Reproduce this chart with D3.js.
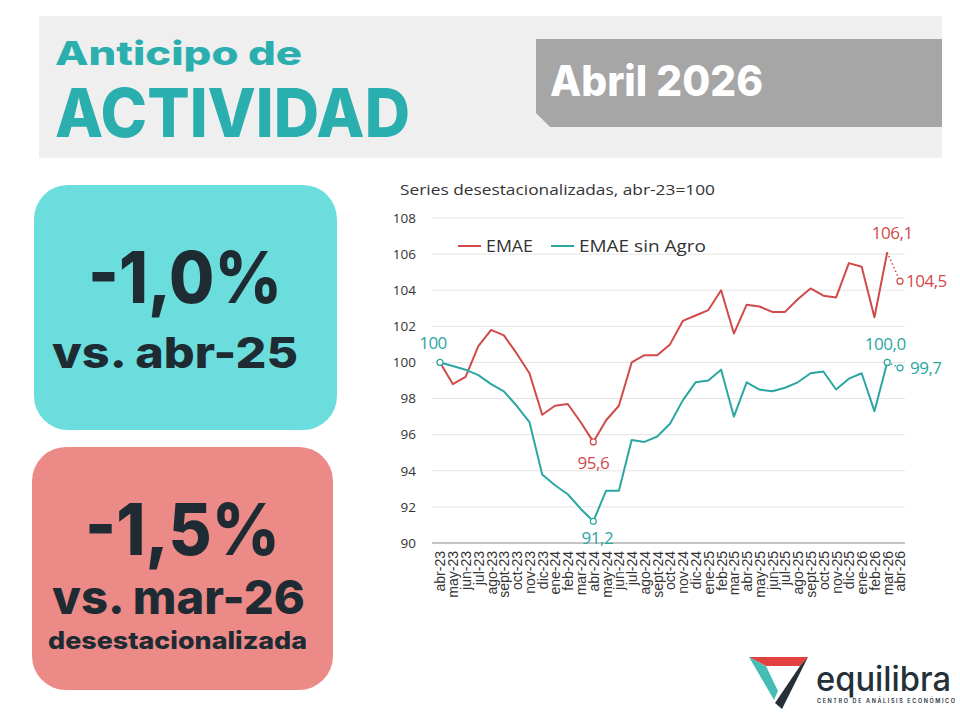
<!DOCTYPE html>
<html>
<head>
<meta charset="utf-8">
<script src="https://cdn.jsdelivr.net/npm/d3@7"></script>
<style>
  body { margin: 0; background: #fff; }
  svg { display: block; }
</style>
</head>
<body>
<div id="chart"></div>
<script>
// Data
var months = ["abr-23","may-23","jun-23","jul-23","ago-23","sept-23","oct-23","nov-23","dic-23",
  "ene-24","feb-24","mar-24","abr-24","may-24","jun-24","jul-24","ago-24","sept-24","oct-24","nov-24","dic-24",
  "ene-25","feb-25","mar-25","abr-25","may-25","jun-25","jul-25","ago-25","sept-25","oct-25","nov-25","dic-25",
  "ene-26","feb-26","mar-26","abr-26"];

var emae = [100,98.8,99.2,100.9,101.8,101.5,100.5,99.4,97.1,
  97.6,97.7,96.7,95.6,96.8,97.6,100.0,100.4,100.4,101.0,102.3,102.6,
  102.9,104.0,101.6,103.2,103.1,102.8,102.8,103.5,104.1,103.7,103.6,105.5,
  105.3,102.5,106.1,104.5];

var emaeSinAgro = [100,99.8,99.6,99.3,98.8,98.4,97.6,96.7,93.8,
  93.2,92.7,91.9,91.2,92.9,92.9,95.7,95.6,95.9,96.6,97.9,98.9,
  99.0,99.6,97.0,98.9,98.5,98.4,98.6,98.9,99.4,99.5,98.5,99.1,
  99.4,97.3,100.0,99.7];

var yTicks = [90,92,94,96,98,100,102,104,106,108];

var red = "#d14a4a";
var teal = "#2ba7a2";
var dark = "#1f2b33";

var svgWidth = 960;
var svgHeight = 720;

var svg = d3.select("#chart")
  .append("svg")
  .attr("width", svgWidth)
  .attr("height", svgHeight)
  .style("font-family", "Inter, 'Noto Sans', sans-serif");

// helper for the heavy display texts (stretched to the width seen in the picture)
function bigText(x0, y0, size, len, color, txt, anchor) {
  return svg.append("text")
    .attr("x", x0).attr("y", y0)
    .attr("text-anchor", anchor || "start")
    .attr("fill", color)
    .attr("textLength", len)
    .attr("lengthAdjust", "spacingAndGlyphs")
    .style("font-size", size + "px").style("font-weight", 800)
    .text(txt);
}

// Header
svg.append("rect")
  .attr("x", 39).attr("y", 16).attr("width", 903).attr("height", 142)
  .attr("fill", "#efefef");

bigText(55, 65, 33, 247, "#2aaeae", "Anticipo de");
bigText(55, 137, 67, 355, "#2aaeae", "ACTIVIDAD");

svg.append("path")
  .attr("d", "M536,39 H942 V127 H550 L536,113 Z")
  .attr("fill", "#a6a6a6");

bigText(550, 96, 42, 213, "#fff", "Abril 2026");

// KPI boxes
var kpis = [
  {x: 34, y: 185, w: 303, h: 245, fill: "#6cdddd",
   lines: [{t: "-1,0%", x: 88, y: 303, s: 72, len: 194}, {t: "vs. abr-25", x: 52, y: 368, s: 43, len: 246}]},
  {x: 32, y: 447, w: 301, h: 243, fill: "#ec8a87",
   lines: [{t: "-1,5%", x: 85, y: 555, s: 72, len: 195}, {t: "vs. mar-26", x: 52, y: 614, s: 47, len: 253},
           {t: "desestacionalizada", x: 48, y: 649, s: 24, len: 259}]}
];

kpis.forEach(function(k) {
  svg.append("rect")
    .attr("x", k.x).attr("y", k.y).attr("width", k.w).attr("height", k.h)
    .attr("rx", 34).attr("fill", k.fill);
  k.lines.forEach(function(l) {
    bigText(l.x, l.y, l.s, l.len, dark, l.t);
  });
});

// Line chart
var x = d3.scalePoint().domain(months).range([440, 900]);
var y = d3.scaleLinear().domain([90, 108]).range([543, 218]);

var chartFont = "'Open Sans', 'Noto Sans', sans-serif";

svg.append("text")
  .attr("x", 400).attr("y", 195)
  .attr("fill", "#333")
  .attr("textLength", 315)
  .attr("lengthAdjust", "spacingAndGlyphs")
  .style("font-family", chartFont)
  .style("font-size", "15px")
  .text("Series desestacionalizadas, abr-23=100");

// gridlines
svg.append("g")
  .selectAll("line")
  .data(yTicks)
  .enter()
  .append("line")
  .attr("x1", 432).attr("x2", 905)
  .attr("y1", d => y(d)).attr("y2", d => y(d))
  .attr("stroke", d => d === 90 ? "#8a8a8a" : "#e4e4e4")
  .attr("stroke-width", d => d === 90 ? 1.2 : 1);

// y axis labels
var yAxis = d3.axisLeft(y).tickValues(yTicks).tickSize(0).tickPadding(0);
var yG = svg.append("g")
  .attr("transform", "translate(416,0)")
  .call(yAxis);
yG.select(".domain").remove();
yG.selectAll("text")
  .attr("fill", "#333")
  .style("font-family", chartFont)
  .style("font-size", "13.5px");

// x axis labels
var xAxis = d3.axisBottom(x).tickSize(0).tickPadding(0);
var xG = svg.append("g")
  .attr("transform", "translate(0,551)")
  .call(xAxis);
xG.select(".domain").remove();
xG.selectAll("text")
  .attr("transform", "rotate(-90)")
  .attr("text-anchor", "end")
  .attr("x", 0).attr("y", 0).attr("dy", "0.35em")
  .attr("fill", "#333")
  .style("font-family", "'Liberation Sans', Arial, sans-serif")
  .style("font-size", "14px");

var line = d3.line()
  .x((d, i) => x(months[i]))
  .y(d => y(d));

var series = [
  {name: "EMAE", values: emae, color: red},
  {name: "EMAE sin Agro", values: emaeSinAgro, color: teal}
];

var n = months.length;
series.forEach(function(s) {
  // solid part
  svg.append("path")
    .datum(s.values.slice(0, n - 1))
    .attr("fill", "none")
    .attr("stroke", s.color)
    .attr("stroke-width", 2)
    .attr("stroke-linejoin", "round")
    .attr("d", line);
  // dotted last segment
  svg.append("line")
    .attr("x1", x(months[n - 2])).attr("y1", y(s.values[n - 2]))
    .attr("x2", x(months[n - 1])).attr("y2", y(s.values[n - 1]))
    .attr("stroke", s.color)
    .attr("stroke-width", 1.5)
    .attr("stroke-dasharray", "1.5,2.5");
});

// markers
var markers = [
  {s: 1, i: 0}, {s: 0, i: 12}, {s: 1, i: 12}, {s: 1, i: 35}, {s: 0, i: 36}, {s: 1, i: 36}
];
markers.forEach(function(m) {
  var s = series[m.s];
  svg.append("circle")
    .attr("cx", x(months[m.i])).attr("cy", y(s.values[m.i]))
    .attr("r", 3)
    .attr("fill", "#fff")
    .attr("stroke", s.color)
    .attr("stroke-width", 1.2);
});

// data labels
var labels = [
  {s: 1, i: 0, t: "100", dx: -7, dy: -13, anchor: "middle"},
  {s: 0, i: 12, t: "95,6", dx: 0, dy: 27, anchor: "middle"},
  {s: 1, i: 12, t: "91,2", dx: 4, dy: 23, anchor: "middle"},
  {s: 0, i: 35, t: "106,1", dx: 5, dy: -13, anchor: "middle"},
  {s: 1, i: 35, t: "100,0", dx: -2, dy: -12, anchor: "middle"},
  {s: 0, i: 36, t: "104,5", dx: 6, dy: 6, anchor: "start"},
  {s: 1, i: 36, t: "99,7", dx: 10, dy: 6, anchor: "start"}
];
labels.forEach(function(l) {
  var s = series[l.s];
  svg.append("text")
    .attr("x", x(months[l.i]) + l.dx)
    .attr("y", y(s.values[l.i]) + l.dy)
    .attr("text-anchor", l.anchor)
    .attr("fill", s.color)
    .style("font-family", chartFont)
    .style("font-size", "17px")
    .style("letter-spacing", "-0.5px")
    .text(l.t);
});

// legend
var legend = svg.append("g").attr("transform", "translate(458,246)");
var legendX = [0, 93];
var legendLen = [47, 127];
series.forEach(function(s, i) {
  legend.append("line")
    .attr("x1", legendX[i]).attr("x2", legendX[i] + 23)
    .attr("y1", 0).attr("y2", 0)
    .attr("stroke", s.color).attr("stroke-width", 2);
  legend.append("text")
    .attr("x", legendX[i] + 28).attr("y", 6)
    .attr("fill", "#333")
    .attr("textLength", legendLen[i])
    .attr("lengthAdjust", "spacingAndGlyphs")
    .style("font-family", chartFont)
    .style("font-size", "16.5px")
    .text(s.name);
});

// logo
var logo = svg.append("g");
logo.append("path")
  .attr("d", "M749,657 H808 L800,666 H766 Z")
  .attr("fill", "#e2413f");
logo.append("path")
  .attr("d", "M749,657 L766,666 L778,691 L774,700 Z")
  .attr("fill", "#45bdb5");
logo.append("path")
  .attr("d", "M800,666 L808,657 L782,709 L775,703 Z")
  .attr("fill", "#253038");
logo.append("text")
  .attr("x", 816).attr("y", 691)
  .attr("fill", "#253038")
  .attr("textLength", 135)
  .attr("lengthAdjust", "spacingAndGlyphs")
  .style("font-family", "Inter, sans-serif")
  .style("font-size", "34px").style("font-weight", 500)
  .text("equilibra");
logo.append("text")
  .attr("x", 817).attr("y", 703)
  .attr("fill", "#253038")
  .attr("textLength", 138)
  .style("font-family", "Inter, sans-serif")
  .style("font-size", "5.5px").style("font-weight", 600)
  .text("CENTRO DE ANÁLISIS ECONÓMICO");
</script>
</body>
</html>
